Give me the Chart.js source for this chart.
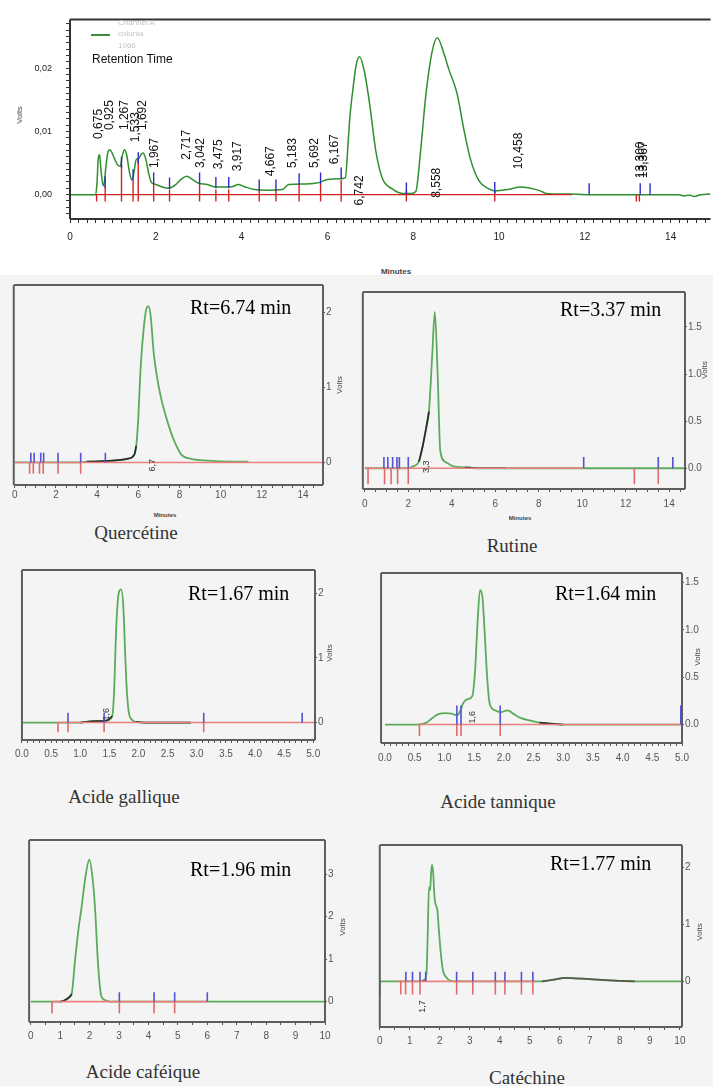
<!DOCTYPE html>
<html lang="fr">
<head>
<meta charset="UTF-8">
<title>Chromatogrammes HPLC</title>
<script src="https://cdn.jsdelivr.net/npm/chart.js"></script>
<style>
  body { margin: 0; background: #fff; width: 713px; height: 1086px; position: relative; overflow: hidden; font-family: "Liberation Sans", Arial, sans-serif; }
  #lower { position: absolute; left: 0; top: 275px; width: 713px; height: 811px; background: #f4f4f4; }
  canvas { position: absolute; }
  .t { position: absolute; white-space: nowrap; line-height: 1; }
  .rt { font-family: "Liberation Serif", "Times New Roman", serif; font-size: 20px; color: #000; line-height: 20px; }
  .cap { font-family: "Liberation Serif", serif; font-size: 19px; color: #333; line-height: 19px; transform: translateX(-50%); }
  .rot { transform: translate(-50%, -50%) rotate(-90deg); }
  .small { font-size: 8px; color: #444; }
</style>
</head>
<body>
<div id="lower"></div>

<canvas id="cTop" width="713" height="262" style="left:0;top:0"></canvas>
<canvas id="cQ"></canvas>
<canvas id="cR"></canvas>
<canvas id="cG"></canvas>
<canvas id="cT"></canvas>
<canvas id="cC"></canvas>
<canvas id="cK"></canvas>

<!-- top chart texts -->
<div class="t" style="left:91px;top:34px;width:19px;height:2px;background:#3b8f3b"></div>
<div class="t" style="left:118px;top:19px;font-size:8px;color:#c4c4c4">Channel A</div>
<div class="t" style="left:118px;top:30px;font-size:8px;color:#c4c4c4">colunia</div>
<div class="t" style="left:118px;top:42px;font-size:8px;color:#c4c4c4">1066</div>
<div class="t" style="left:92px;top:53px;font-size:12px;color:#111">Retention Time</div>
<div class="t rot small" style="left:20px;top:115px">Volts</div>
<div class="t small" style="left:396px;top:272px;transform:translate(-50%,-50%);font-weight:bold">Minutes</div>

<!-- panel texts -->
<div class="t rt" style="left:190px;top:297px">Rt=6.74 min</div>
<div class="t rt" style="left:560px;top:299px">Rt=3.37 min</div>
<div class="t rt" style="left:188px;top:583px">Rt=1.67 min</div>
<div class="t rt" style="left:555px;top:583px">Rt=1.64 min</div>
<div class="t rt" style="left:190px;top:859px">Rt=1.96 min</div>
<div class="t rt" style="left:550px;top:853px">Rt=1.77 min</div>

<div class="t cap" style="left:136px;top:523px">Quercétine</div>
<div class="t cap" style="left:512px;top:536px">Rutine</div>
<div class="t cap" style="left:124px;top:787px">Acide gallique</div>
<div class="t cap" style="left:498px;top:792px">Acide tannique</div>
<div class="t cap" style="left:143px;top:1062px">Acide caféique</div>
<div class="t cap" style="left:527px;top:1068px">Catéchine</div>

<div class="t rot small" style="left:340px;top:385px">Volts</div>
<div class="t rot small" style="left:705px;top:370px">Volts</div>
<div class="t rot small" style="left:330px;top:653px">Volts</div>
<div class="t rot small" style="left:698px;top:657px">Volts</div>
<div class="t rot small" style="left:343px;top:927px">Volts</div>
<div class="t rot small" style="left:700px;top:932px">Volts</div>
<div class="t small" style="left:165px;top:515px;transform:translate(-50%,-50%);font-size:6px;font-weight:bold">Minutes</div>
<div class="t small" style="left:520px;top:518px;transform:translate(-50%,-50%);font-size:6px;font-weight:bold">Minutes</div>

<script>
// ---- top chromatogram (extract) ----
const topTime = [0,0.6,0.63,0.66,0.69,0.72,0.76,0.79,0.83,0.88,0.93,0.98,1.05,1.12,1.17,1.22,1.27,1.32,1.38,1.44,1.49,1.54,1.6,1.66,1.7,1.76,1.84,1.9,2.0,2.15,2.3,2.45,2.6,2.72,2.85,3.0,3.2,3.4,3.6,3.8,3.92,4.05,4.3,4.6,4.95,5.1,5.5,5.8,6.0,6.3,6.42,6.48,6.52,6.6,6.67,6.75,6.86,6.98,7.13,7.28,7.51,7.75,7.95,8.06,8.17,8.29,8.44,8.56,8.72,8.83,9.02,9.18,9.33,9.53,9.76,9.9,10.2,10.5,10.96,11.1,11.6,12.1,14.2,14.3,14.45,14.55,14.7,14.93];
const topVolts = [0,0,0.002,0.0058,0.0063,0.004,0.0018,0.0014,0.004,0.0066,0.0071,0.0066,0.0055,0.0046,0.0045,0.0062,0.0071,0.0063,0.0038,0.0023,0.0035,0.0055,0.0057,0.0064,0.0066,0.0058,0.0032,0.0019,0.0016,0.0012,0.001,0.0015,0.0025,0.0029,0.0024,0.0018,0.0016,0.0012,0.0012,0.0013,0.0016,0.0013,0.0008,0.0007,0.0008,0.0016,0.0017,0.0019,0.0024,0.0025,0.0027,0.008,0.012,0.017,0.0205,0.0218,0.0195,0.0145,0.0068,0.0026,0.0009,0.0002,0.0002,0.0005,0.0068,0.0155,0.0226,0.0248,0.0222,0.0198,0.016,0.0103,0.0057,0.0022,0.0009,0.0006,0.0008,0.0012,0.0006,0.0002,0.0001,0,0,-0.0002,-0.0001,-0.0003,0,0.0001];
const topBaseline = [0.6, 11.7];
const topRedTimes = [0.62,0.82,1.20,1.47,1.59,1.95,2.32,3.02,3.40,3.70,4.41,4.80,5.34,5.84,6.32,7.84,9.90,13.20,13.27];
const topRedLevels = [0,0.0014,0.0047,0.0022,0.0058,0.0017,0.0008,0.0017,0.0008,0.0008,0.0008,0.0008,0.0017,0.0017,0.0023,0.0007,0.0007,0,0];
const topBlueTimes = [0.82,1.20,1.47,1.59,1.95,2.32,3.02,3.40,3.70,4.41,4.80,5.34,5.84,6.32,7.84,9.90,12.10,13.29,13.52];
const topBlueLevels = [0.0011,0.0042,0.0022,0.0049,0.0017,0.0009,0.0017,0.001,0.001,0.0006,0.0006,0.0016,0.0017,0.0025,0.0001,0.0002,0,0,0];
const topPeakTimes = [0.675,0.925,1.267,1.533,1.692,1.967,2.717,3.042,3.475,3.917,4.667,5.183,5.692,6.167,6.742,8.558,10.458,13.30,13.367];
const topPeakLabels = ['0,675','0,925','1,267','1,533','1,692','1,967','2,717','3,042','3,475','3,917','4,667','5,183','5,692','6,167','6,742','8,558','10,458','13,300','13,367'];
const topPeakBase = [0.0088,0.0102,0.0102,0.0083,0.0102,0.0042,0.0055,0.0042,0.004,0.0037,0.0029,0.0042,0.0042,0.0048,-0.0017,-0.0005,0.004,0.0026,0.0026];

// ---- standards ----
const qTime = [0,1,2,3,3.5,4.5,5.5,5.8,5.9,6.0,6.1,6.25,6.4,6.5,6.6,6.75,6.9,7.07,7.3,7.56,7.8,8.1,8.5,9.0,10.0,11.35];
const qVolts = [0,0,0,0,0.01,0.02,0.05,0.1,0.22,0.6,1.2,1.75,2.05,2.08,1.95,1.45,1.15,0.9,0.65,0.42,0.25,0.1,0.05,0.03,0.015,0.01];
const qBlue = [0.78,0.94,1.26,1.4,2.1,3.2,4.4];
const qRed = [0.72,0.9,1.2,1.38,2.1,3.2];

const rTime = [0,2.0,2.2,2.49,2.65,2.8,2.95,3.1,3.22,3.35,3.47,3.7,4.08,4.6,5.2,6.5,14.73];
const rVolts = [0,0,0.02,0.07,0.22,0.4,0.6,1.19,1.66,1.01,0.19,0.07,0.02,0.01,0,0,0];
const rBlue = [0.88,1.06,1.28,1.48,1.59,2.0,10.07,13.5,14.17];
const rRed = [0.15,0.91,1.21,1.51,2.0,12.4,13.5];

const gTime = [0,1.0,1.2,1.45,1.55,1.58,1.62,1.66,1.7,1.74,1.77,1.8,1.83,1.88,1.95,2.1,2.9];
const gVolts = [0,0,0.02,0.03,0.1,0.45,1.5,2.0,2.06,1.8,1.1,0.5,0.18,0.05,0.01,0,0];
const gBlue = [0.79,1.41,3.12,4.81];
const gRed = [0.62,0.79,1.41,3.12];

const tTime = [0,0.55,0.7,0.8,0.9,1.02,1.12,1.2,1.25,1.32,1.4,1.47,1.52,1.56,1.6,1.64,1.68,1.72,1.76,1.85,1.95,2.06,2.17,2.28,2.45,2.6,3.0,5.0];
const tVolts = [0,0,0.02,0.07,0.11,0.12,0.115,0.1,0.12,0.23,0.27,0.3,0.6,1.1,1.42,1.35,0.95,0.5,0.23,0.15,0.13,0.15,0.11,0.07,0.04,0.02,0,0];
const tBlue = [1.21,1.28,1.94,4.98];
const tRed = [0.58,1.21,1.28,1.94];

const cTime = [0,1.0,1.12,1.3,1.39,1.5,1.62,1.73,1.85,1.99,2.1,2.18,2.29,2.4,2.55,2.68,10];
const cVolts = [0,0,0.02,0.1,0.18,0.94,1.7,2.24,2.9,3.34,2.9,2.24,0.84,0.12,0.03,0,0];
const cBlue = [3.01,4.19,4.89,6.0];
const cRed = [0.72,3.01,4.19,4.89];

const kTime = [0,0.01,0.05,1.4,1.5,1.56,1.6,1.64,1.68,1.71,1.74,1.78,1.82,1.86,1.92,1.97,2.03,2.1,2.2,2.37,2.6,5.4,5.8,6.2,6.6,7.0,7.5,8.0,8.5,10.07];
const kVolts = [-0.25,0,0,0,0.03,0.17,0.9,1.65,1.6,1.9,2.04,1.9,1.5,1.35,1.25,0.9,0.51,0.2,0.08,0.01,0,0,0.03,0.06,0.05,0.04,0.02,0.01,0,0];
const kBlue = [0.87,1.09,1.34,1.53,2.56,3.1,3.85,4.17,4.72,5.1];
const kRed = [0.7,0.86,1.09,1.34,2.56,3.1,3.85,4.17,4.72,5.1];

Chart.defaults.font.family = '"Liberation Sans", Arial, sans-serif';
Chart.defaults.animation = false;

function zip(xs, ys) { return xs.map((x, i) => ({ x: x, y: ys[i] })); }
function within(pts, ranges) {
    // keep the points of the curve that fall in the black (integrated) ranges
    return ranges.map(r => pts.filter(p => p.x >= r[0] && p.x <= r[1]));
}
function marks(times, lo, hi) {
    const out = [];
    times.forEach((t, i) => {
        const a = Array.isArray(lo) ? lo[i] : lo;
        const b = Array.isArray(hi) ? hi[i] : hi;
        out.push({ x: t, y: a }, { x: t, y: b }, { x: t, y: null });
    });
    return out;
}
function lineSet(data, color, width, smooth) {
    return { data: data, borderColor: color, borderWidth: width, pointRadius: 0, fill: false,
             cubicInterpolationMode: smooth ? 'monotone' : 'default', tension: 0, spanGaps: false };
}
function framePlugin(sides, color, width) {
    return {
        id: 'frame',
        afterDraw(chart) {
            const { ctx, chartArea: a } = chart;
            ctx.save();
            ctx.strokeStyle = color;
            ctx.lineWidth = width;
            ctx.beginPath();
            if (sides.includes('t')) { ctx.moveTo(a.left, a.top); ctx.lineTo(a.right, a.top); }
            if (sides.includes('b')) { ctx.moveTo(a.left, a.bottom); ctx.lineTo(a.right, a.bottom); }
            if (sides.includes('l')) { ctx.moveTo(a.left, a.top); ctx.lineTo(a.left, a.bottom); }
            if (sides.includes('r')) { ctx.moveTo(a.right, a.top); ctx.lineTo(a.right, a.bottom); }
            ctx.stroke();
            ctx.restore();
        }
    };
}
function labelPlugin(times, texts, bases, font, color) {
    return {
        id: 'peakLabels',
        afterDatasetsDraw(chart) {
            const { ctx, scales } = chart;
            ctx.save();
            ctx.font = font;
            ctx.fillStyle = color;
            ctx.textAlign = 'left';
            ctx.textBaseline = 'middle';
            times.forEach((t, i) => {
                ctx.save();
                ctx.translate(scales.x.getPixelForValue(t), scales.y.getPixelForValue(bases[i]));
                ctx.rotate(-Math.PI / 2);
                ctx.fillText(texts[i], 0, 0);
                ctx.restore();
            });
            ctx.restore();
        }
    };
}
function near(v, step) { return Math.abs(v / step - Math.round(v / step)) < 1e-6; }

// ---- top chart ----
const topPts = zip(topTime, topVolts);
new Chart(document.getElementById('cTop'), {
    type: 'line',
    data: {
        datasets: [
            lineSet(marks(topBlueTimes, topBlueLevels, topBlueLevels.map(v => v + 0.0018)), '#2b2bc8', 1.4, false),
            lineSet(marks(topRedTimes, topRedLevels, -0.0011), '#d42020', 1.4, false),
            lineSet(topBaseline.map(t => ({ x: t, y: 0 })), '#d42020', 1.4, false),
            lineSet(topPts, '#2f8f2f', 1.5, true)
        ]
    },
    options: {
        responsive: false,
        layout: { padding: { top: 14, left: 0, right: 0, bottom: 0 } },
        plugins: { legend: { display: false }, tooltip: { enabled: false } },
        scales: {
            x: {
                type: 'linear', min: 0, max: 14.93,
                afterFit: s => { s.height = 43; },
                border: { display: false },
                grid: { drawOnChartArea: false, tickLength: 4, color: '#333' },
                ticks: { stepSize: 0.2, includeBounds: false, autoSkip: false, maxRotation: 0, padding: 8,
                         font: { size: 10 }, color: '#222',
                         callback: v => near(v, 2) ? String(Math.round(v)) : '' }
            },
            y: {
                min: -0.00385, max: 0.0277,
                afterFit: s => { s.width = 70; },
                border: { display: false },
                grid: { drawOnChartArea: false, tickLength: 4, color: '#333' },
                ticks: { stepSize: 0.001, includeBounds: false, autoSkip: false, padding: 14,
                         font: { size: 9 }, color: '#222',
                         callback: v => near(v, 0.01) ? Math.abs(v).toFixed(2).replace('.', ',') : '' }
            }
        }
    },
    plugins: [framePlugin('tlb', '#333', 2),
              labelPlugin(topPeakTimes, topPeakLabels, topPeakBase, '12px "Liberation Sans", Arial', '#111')]
});

// ---- small standard panels ----
function panel(id, f, xr, yr, cfg) {
    const cv = document.getElementById(id);
    const yW = 26, xH = 24;
    cv.width = (f.r - f.l) + 2 + yW;
    cv.height = (f.b - f.t) + 2 + xH;
    cv.style.left = (f.l - 2) + 'px';
    cv.style.top = (f.t - 2) + 'px';
    const pts = zip(cfg.time, cfg.volts);
    const sets = [
        lineSet(marks(cfg.blue, 0, cfg.bh), '#5252d2', 1.6, false),
        lineSet(marks(cfg.red, -cfg.rd, 0), '#e06a6a', 1.6, false),
        lineSet(cfg.base.map(t => ({ x: t, y: 0 })), '#ec8080', 1.6, false)
    ];
    within(pts, cfg.black).forEach(seg => sets.push(lineSet(seg, cfg.blackColor || '#2a2a2a', 1.7, true)));
    sets.push(lineSet(pts, '#5cab5c', 1.8, true));
    const plugins = [framePlugin('tlbr', '#5e5e5e', 2)];
    if (cfg.lab) plugins.push(labelPlugin([cfg.lab[0]], [cfg.lab[2]], [cfg.lab[1]], '9px "Liberation Sans", Arial', '#333'));
    new Chart(cv, {
        type: 'line',
        data: { datasets: sets },
        options: {
            responsive: false,
            layout: { padding: { top: 2, left: 2, right: 0, bottom: 0 } },
            plugins: { legend: { display: false }, tooltip: { enabled: false } },
            scales: {
                x: {
                    type: 'linear', min: xr[0], max: xr[1],
                    afterFit: s => { s.height = xH; },
                    border: { display: false },
                    grid: { drawOnChartArea: false, tickLength: 3, color: '#555' },
                    ticks: { stepSize: cfg.xMinor, includeBounds: false, autoSkip: false, maxRotation: 0,
                             padding: cfg.xPad, font: { size: 10 }, color: '#555',
                             callback: v => near(v, cfg.xMajor) ? v.toFixed(cfg.xDec) : '' }
                },
                y: {
                    position: 'right', min: yr[0], max: yr[1],
                    afterFit: s => { s.width = yW; },
                    border: { display: false },
                    grid: { drawOnChartArea: false, tickLength: 2, color: '#555' },
                    ticks: { stepSize: cfg.yStep, includeBounds: false, autoSkip: false, padding: 1,
                             font: { size: 10 }, color: '#555',
                             callback: v => v.toFixed(cfg.yDec) }
                }
            }
        },
        plugins: plugins
    });
}

panel('cQ', { l: 13, r: 323, t: 280, b: 485 }, [-0.05, 14.97], [-0.30, 2.36],
      { time: qTime, volts: qVolts, blue: qBlue, red: qRed, base: [0, 14.97], black: [[3.5, 5.95]],
        bh: 0.13, rd: 0.15, xMinor: 0.5, xMajor: 2, xDec: 0, xPad: 1, yStep: 1, yDec: 0, lab: [6.7, -0.12, '6,7'] });
panel('cR', { l: 358, r: 685, t: 287, b: 489 }, [-0.09, 14.73], [-0.22, 1.87],
      { time: rTime, volts: rVolts, blue: rBlue, red: rRed, base: [0, 10.1], black: [[2.4, 2.95], [4.5, 6.5]],
        bh: 0.12, rd: 0.17, xMinor: 0.5, xMajor: 2, xDec: 0, xPad: 6, yStep: 0.5, yDec: 1, lab: [2.85, -0.05, '3,3'] });
panel('cG', { l: 12, r: 315, t: 565, b: 740 }, [0, 5.03], [-0.27, 2.36],
      { time: gTime, volts: gVolts, blue: gBlue, red: gRed, base: [0.6, 5.03], black: [[1.0, 1.56], [1.9, 2.9]],
        bh: 0.15, rd: 0.15, xMinor: 0.1, xMajor: 0.5, xDec: 1, xPad: 5, yStep: 1, yDec: 0, lab: [1.45, 0.03, '1,6'] });
panel('cT', { l: 374, r: 682, t: 568, b: 743 }, [-0.066, 5.0], [-0.195, 1.60],
      { time: tTime, volts: tVolts, blue: tBlue, red: tRed, base: [0.58, 5.0], black: [[2.6, 3.0]],
        bh: 0.2, rd: 0.12, xMinor: 0.1, xMajor: 0.5, xDec: 1, xPad: 6, yStep: 0.5, yDec: 1, lab: [1.47, 0.01, '1,6'] });
panel('cC', { l: 25, r: 325, t: 835, b: 1022 }, [-0.057, 10.0], [-0.48, 3.8],
      { time: cTime, volts: cVolts, blue: cBlue, red: cRed, base: [0.72, 6.0], black: [[1.0, 1.4]],
        bh: 0.22, rd: 0.28, xMinor: 0.5, xMajor: 1, xDec: 0, xPad: 5, yStep: 1, yDec: 0, lab: null });
panel('cK', { l: 374, r: 682, t: 840, b: 1027 }, [0, 10.07], [-0.8, 2.39],
      { time: kTime, volts: kVolts, blue: kBlue, red: kRed, base: [0.6, 5.2], black: [[1.4, 1.5], [5.4, 8.5]],
        blackColor: '#5a5a4a',
        bh: 0.17, rd: 0.23, xMinor: 0.5, xMajor: 1, xDec: 0, xPad: 5, yStep: 1, yDec: 0, lab: [1.44, -0.55, '1,7'] });
</script>
</body>
</html>
